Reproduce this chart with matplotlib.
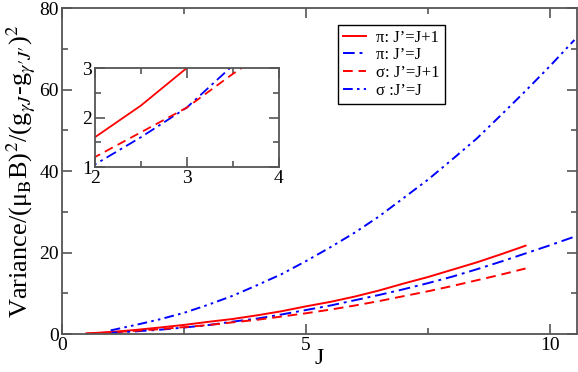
import matplotlib
matplotlib.use("Agg")
import matplotlib.pyplot as plt
from matplotlib.ticker import MultipleLocator

plt.rcParams['font.family'] = ['Liberation Serif', 'DejaVu Serif']
plt.rcParams['mathtext.fontset'] = 'stix'

# pi: J'=J+1 and sigma: J'=J+1 (J = 0.5 ... 9.5)
j_plus = [0.5, 1.0, 1.5, 2.0, 2.5, 3.0, 3.5, 4.0, 4.5, 5.0,
          5.5, 6.0, 6.5, 7.0, 7.5, 8.0, 8.5, 9.0, 9.5]
pi_plus = [0.15, 0.5, 1.0, 1.6, 2.24, 3.0, 3.7, 4.6, 5.6, 6.8,
           7.9, 9.2, 10.7, 12.4, 14.0, 15.8, 17.6, 19.6, 21.7]
sig_plus = [0.1, 0.4, 0.8, 1.2, 1.7, 2.2, 2.88, 3.5, 4.3, 5.1,
            6.0, 7.0, 8.1, 9.3, 10.5, 11.8, 13.2, 14.6, 16.1]

# pi: J'=J and sigma: J'=J (J = 1.0 ... 10.5)
j_same = [1.0, 1.5, 2.0, 2.5, 3.0, 3.5, 4.0, 4.5, 5.0, 5.5,
          6.0, 6.5, 7.0, 7.5, 8.0, 8.5, 9.0, 9.5, 10.0, 10.5]
pi_same = [0.3, 0.65, 1.05, 1.6, 2.2, 3.05, 3.8, 4.8, 5.9, 7.0,
           8.3, 9.6, 11.0, 12.5, 14.1, 15.9, 17.8, 19.8, 21.8, 23.9]
sig_same = [0.9, 2.2, 3.6, 5.2, 7.2, 9.4, 12.0, 14.7, 17.9, 21.3,
            24.9, 28.9, 33.4, 37.9, 42.9, 48.0, 53.8, 59.7, 65.8, 72.2]

labels = ['\u03c0: J\u2019=J+1', '\u03c0: J\u2019=J', '\u03c3: J\u2019=J+1', '\u03c3 :J\u2019=J']
dashdot = (0, (6, 2.5, 1.5, 2.5))
dashdotdot = (0, (5, 2.2, 1.3, 2.2, 1.3, 2.2))


def draw(ax, lw):
    ax.plot(j_plus, pi_plus, color='red', lw=lw, ls='-', label=labels[0])
    ax.plot(j_same, pi_same, color='blue', lw=lw, ls=dashdot, label=labels[1])
    ax.plot(j_plus, sig_plus, color='red', lw=lw, ls=(0, (5, 3)), label=labels[2])
    ax.plot(j_same, sig_same, color='blue', lw=lw, ls=dashdotdot, label=labels[3])


def style(ax, size):
    for s in ax.spines.values():
        s.set_color('#555555')
        s.set_linewidth(1.3)
    ax.tick_params(which='both', direction='in', top=True, right=True,
                   color='#555555', width=1.2, labelsize=size, pad=2)
    ax.tick_params(which='major', length=7)
    ax.tick_params(which='minor', length=4)


fig = plt.figure(figsize=(5.78, 3.72), dpi=100)
ax = fig.add_axes([0.107, 0.102, 0.891, 0.876])
draw(ax, 1.4)
ax.set_xlim(0, 10.55)
ax.set_ylim(0, 80)
ax.xaxis.set_major_locator(MultipleLocator(5))
ax.xaxis.set_minor_locator(MultipleLocator(2.5))
ax.yaxis.set_major_locator(MultipleLocator(20))
ax.yaxis.set_minor_locator(MultipleLocator(10))
style(ax, 14)
ax.set_xlabel('J', fontsize=17, labelpad=-4)
ax.set_ylabel('Variance/(\u03bc$_{\\rm B}$B)$^2$/(g$_{\\gamma J}$-g$_{\\gamma\\prime J\\prime}$)$^2$',
              fontsize=19, labelpad=1)
leg = ax.legend(loc='upper left', bbox_to_anchor=(0.52, 0.975), fontsize=12,
                handlelength=1.4, handletextpad=0.6, labelspacing=0.1,
                borderpad=0.3, fancybox=False, framealpha=1)
leg.get_frame().set_edgecolor('black')
leg.get_frame().set_linewidth(1.0)

ins = fig.add_axes([0.164, 0.551, 0.318, 0.266])
draw(ins, 1.3)
ins.set_xlim(2, 4)
ins.set_ylim(1, 3)
ins.xaxis.set_major_locator(MultipleLocator(1))
ins.xaxis.set_minor_locator(MultipleLocator(0.5))
ins.yaxis.set_major_locator(MultipleLocator(1))
ins.yaxis.set_minor_locator(MultipleLocator(0.5))
style(ins, 14)

fig.savefig('out.png', dpi=100)
